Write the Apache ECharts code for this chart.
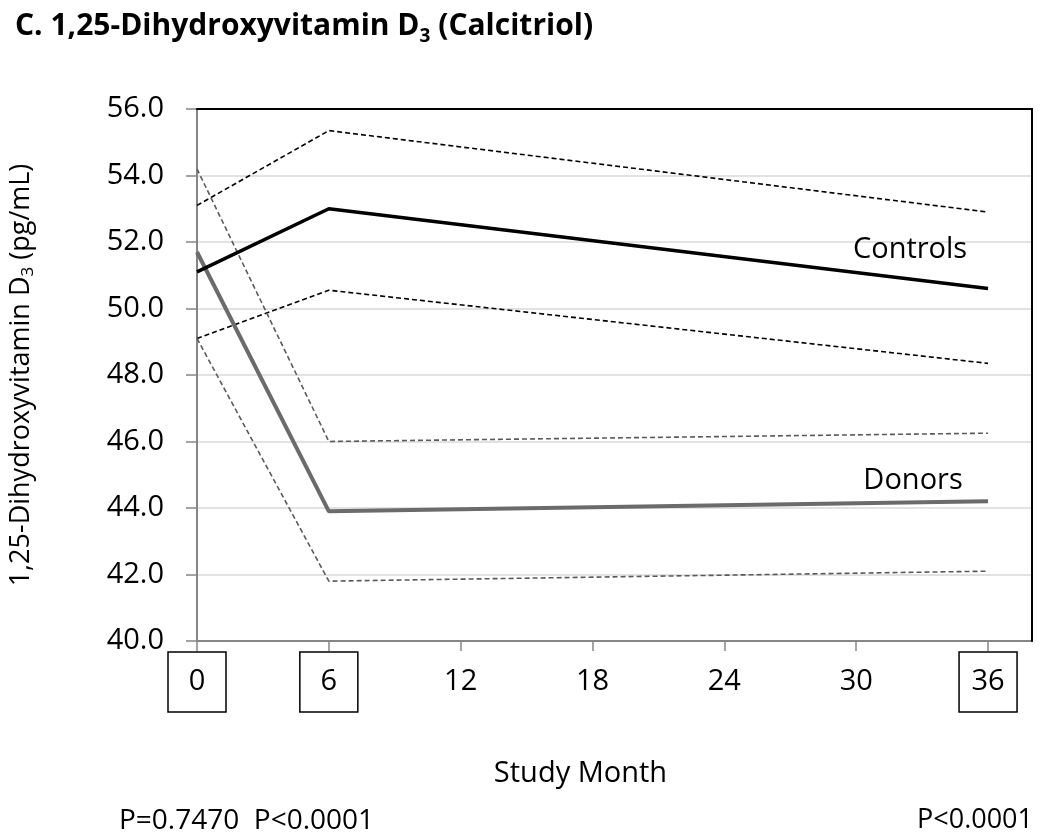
<!DOCTYPE html>
<html>
<head>
<meta charset="utf-8">
<script src="https://cdn.jsdelivr.net/npm/echarts@6/dist/echarts.min.js"></script>
<style>
html,body{margin:0;padding:0;background:#fff;}
#chart{width:1050px;height:836px;}
</style>
</head>
<body>
<div id="chart"></div>
<script>
const months = [0, 6, 36];
const xTickLabels = [0, 6, 12, 18, 24, 30, 36];
const boxedMonths = [0, 6, 36];
const yTicks = [40, 42, 44, 46, 48, 50, 52, 54, 56];

const controlsMean = [51.1, 53.0, 50.6];
const controlsUpper = [53.1, 55.35, 52.9];
const controlsLower = [49.1, 50.55, 48.35];

const donorsMean = [51.7, 43.9, 44.2];
const donorsUpper = [54.2, 46.0, 46.25];
const donorsLower = [49.1, 41.8, 42.1];

const pLeft = 'P=0.7470  P<0.0001';
const pRight = 'P<0.0001';

const FONT = '"Open Sans", sans-serif';

function pts(vals) { return months.map((m, i) => [m, vals[i]]); }

function lineSeries(name, vals, color, width, type, labelText, labelOffset) {
  const s = {
    name, type: 'line', data: pts(vals), symbol: 'none', silent: true,
    lineStyle: { color, width, type },
    z: type === 'solid' ? 5 : 3,
    animation: false
  };
  if (labelText) {
    s.endLabel = {
      show: true, formatter: labelText, distance: 0,
      offset: labelOffset, align: 'center', verticalAlign: 'middle',
      color: '#000', fontSize: 29, fontFamily: FONT
    };
  }
  return s;
}

const chart = echarts.init(document.getElementById('chart'), null, { renderer: 'canvas' });
chart.setOption({
  animation: false,
  backgroundColor: '#fff',
  title: {
    text: 'C. 1,25-Dihydroxyvitamin D{s|3} (Calcitriol)',
    left: 10, top: 2,
    textStyle: {
      fontFamily: FONT, fontWeight: 'bold', fontSize: 30, color: '#000',
      rich: { s: { fontFamily: FONT, fontWeight: 'bold', fontSize: 19, color: '#000', padding: [20, 0, 0, 0] } }
    }
  },
  graphic: [
    { type: 'text', left: 119, top: 807, style: { text: pLeft, fontFamily: FONT, fontSize: 28, fill: '#000' } },
    { type: 'text', right: 17, top: 807, style: { text: pRight, fontFamily: FONT, fontSize: 27, fill: '#000' } }
  ],
  grid: {
    left: 195, right: 18, top: 109, bottom: 195, show: false
  },
  xAxis: [{
    type: 'value', min: 0, max: 38,
    name: 'Study Month', nameLocation: 'middle', nameGap: 118,
    nameTextStyle: { fontFamily: FONT, fontSize: 29, color: '#000', padding: [0, 0, 0, -68] },
    axisLine: { show: true, onZero: false, lineStyle: { color: '#868686', width: 2 } },
    axisTick: { show: true, length: 10, lineStyle: { color: '#868686', width: 1.5 }, customValues: xTickLabels },
    axisLabel: {
      customValues: xTickLabels,
      margin: 11,
      formatter: function (v) {
        return boxedMonths.indexOf(v) >= 0 ? '{b|' + v + '}' : '{n|' + v + '}';
      },
      rich: {
        b: { fontFamily: FONT, fontSize: 29, color: '#000', borderColor: '#000', borderWidth: 1.5, width: 58, height: 60, lineHeight: 60, align: 'center' },
        n: { fontFamily: FONT, fontSize: 29, color: '#000', height: 60, lineHeight: 60, align: 'center' }
      }
    },
    splitLine: { show: false }
  }, {
    type: 'value', min: 0, max: 38, position: 'top', z: 6,
    axisLine: { show: true, onZero: false, lineStyle: { color: '#000', width: 2 } },
    axisTick: { show: false }, axisLabel: { show: false }, splitLine: { show: false }
  }],
  yAxis: [{
    type: 'value', min: 40, max: 56, interval: 2,
    name: '1,25-Dihydroxyvitamin D{s|3} (pg/mL)',
    nameLocation: 'middle', nameGap: 160, nameRotate: 90,
    nameTextStyle: {
      fontFamily: FONT, fontSize: 27, color: '#000',
      rich: { s: { fontFamily: FONT, fontSize: 17, color: '#000', padding: [14, 0, 0, 0] } }
    },
    axisLine: { show: true, lineStyle: { color: '#868686', width: 2 } },
    axisTick: { show: true, length: 11, lineStyle: { color: '#868686', width: 1.5 } },
    axisLabel: {
      margin: 33, fontFamily: FONT, fontSize: 29, color: '#000',
      formatter: v => v.toFixed(1)
    },
    splitLine: { show: true, lineStyle: { color: '#d9d9d9', width: 1.5 } }
  }, {
    type: 'value', min: 40, max: 56, interval: 2, position: 'right', z: 6,
    axisLine: { show: true, onZero: false, lineStyle: { color: '#000', width: 2 } },
    axisTick: { show: false }, axisLabel: { show: false }, splitLine: { show: false }
  }],
  series: [
    lineSeries('Controls upper', controlsUpper, '#000', 1.6, [5, 3]),
    lineSeries('Controls lower', controlsLower, '#000', 1.6, [5, 3]),
    lineSeries('Donors upper', donorsUpper, '#5a5a5a', 1.6, [5, 3]),
    lineSeries('Donors lower', donorsLower, '#5a5a5a', 1.6, [5, 3]),
    lineSeries('Donors', donorsMean, '#6b6b6b', 4, 'solid', 'Donors', [-75, -21]),
    lineSeries('Controls', controlsMean, '#000', 3.5, 'solid', 'Controls', [-78, -39])
  ]
});
</script>
</body>
</html>
